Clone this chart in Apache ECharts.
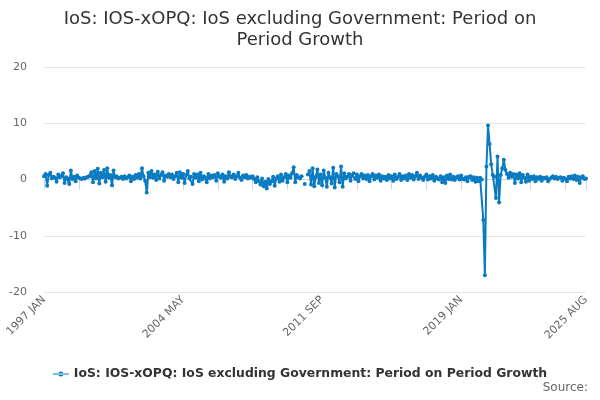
<!DOCTYPE html>
<html>
<head>
<meta charset="utf-8">
<script src="https://cdn.jsdelivr.net/npm/echarts@6/dist/echarts.min.js"></script>
<style>
html,body{margin:0;padding:0;background:#fff;}
#chart{width:600px;height:400px;}
</style>
</head>
<body>
<div id="chart"></div>
<script>
var titleText = 'IoS: IOS-xOPQ: IoS excluding Government: Period on\nPeriod Growth';
var seriesName = 'IoS: IOS-xOPQ: IoS excluding Government: Period on Period Growth';
var monthNames = ['JAN','FEB','MAR','APR','MAY','JUN','JUL','AUG','SEP','OCT','NOV','DEC'];
var firstYear = 1997;
var yTicks = [-20, -10, 0, 10, 20];

var v1997 = [0.6, 1.0, -1.1, 0.8, 1.2, 0.2, 0.5, 0.3, -0.4, 0.9, 0.4, 0.6];
var v1998 = [1.1, -0.6, 0.4, 0.2, -0.8, 1.6, 0.1, 0.5, -0.3, 0.7, 0.3, 0.2];
var v1999 = [0.1, 0.3, 0.2, 0.4, 0.5, 0.6, 1.3, -0.5, 1.5, 0.2, 1.9, -0.7];
var v2000 = [1.2, 0.4, 1.7, -0.4, 2.0, 0.3, 0.8, -1.0, 1.6, 0.4, 0.6, 0.2];
var v2001 = [0.3, 0.5, 0.1, 0.6, 0.2, 0.4, 0.7, -0.3, 0.5, 0.1, 0.8, 0.3];
var v2002 = [1.0, 0.2, 2.0, 0.6, -0.2, -2.3, 1.2, 0.4, 1.5, 0.3, 0.9, -0.1];
var v2003 = [1.4, 0.2, 0.8, 1.3, -0.2, 0.7, 0.5, 1.0, 0.4, 0.9, 0.1, 0.6];
var v2004 = [1.2, -0.5, 1.3, 0.3, 1.0, -0.6, 0.8, 1.5, 0.2, 0.5, -0.8, 1.0];
var v2005 = [0.3, 0.9, -0.3, 1.2, 0.0, 0.6, 0.4, -0.5, 1.0, 0.2, 0.7, 0.4];
var v2006 = [0.8, -0.2, 1.1, 0.5, 0.3, 0.9, -0.4, 0.6, 0.2, 1.3, 0.5, 0.4];
var v2007 = [0.9, 0.1, 0.6, 1.2, 0.3, -0.1, 0.7, 0.4, 0.8, 0.2, 0.5, 0.3];
var v2008 = [0.6, 0.1, -0.5, 0.4, -0.3, -0.9, 0.2, -1.2, -0.4, -1.6, 0.1, -0.8];
var v2009 = [-0.3, 0.5, -1.1, 0.2, 0.6, -0.4, 0.9, -0.2, 0.4, 1.0, -0.5, 0.7];
var v2010 = [0.3, 1.1, 2.2, -0.5, 0.8, 0.4, 0.2, 0.6, null, -0.8, null, 0.9];
var v2011 = [1.5, -0.9, 2.0, -1.2, 0.5, 1.8, -0.6, 0.9, -1.0, 1.6, 0.3, -1.3];
var v2012 = [1.2, 0.4, -0.7, 2.1, -1.4, 1.0, 0.6, -0.5, 2.3, -1.3, 1.1, 0.2];
var v2013 = [0.5, 1.0, -0.2, 0.8, 1.1, 0.1, 0.9, -0.3, 0.6, 1.0, 0.2, 0.7];
var v2014 = [0.1, 0.8, -0.3, 0.6, 1.0, 0.0, 0.7, 0.3, 0.9, -0.2, 0.6, 0.2];
var v2015 = [0.5, -0.1, 0.8, 0.2, 0.6, -0.2, 0.9, 0.1, 0.4, 1.0, -0.1, 0.6];
var v2016 = [0.2, 0.7, -0.1, 1.0, 0.3, 0.8, 0.0, 0.6, 1.2, 0.1, 0.7, 0.3];
var v2017 = [-0.1, 0.5, 0.9, 0.0, 0.6, 0.2, 0.8, -0.2, 0.5, 0.2, 0.0, 0.6];
var v2018 = [-0.5, 0.4, -0.6, 0.7, 0.1, 0.9, 0.0, 0.5, -0.1, 0.4, 0.6, 0.0];
var v2019 = [0.7, 0.1, 0.0, 0.4, -0.3, 0.5, 0.6, -0.1, 0.4, -0.4, 0.3, -0.3];
var v2020 = [0.3, 0.0, -7.2, -17.0, 2.3, 9.6, 6.3, 2.7, 0.8, 0.5, -3.3, 4.1];
var v2021 = [-4.1, 0.8, 2.0, 3.5, 1.7, 1.0, 0.3, 1.2, 0.5, 1.0, -0.6, 0.9];
var v2022 = [0.2, 1.1, -0.5, 0.8, 0.3, -0.4, 0.9, -0.2, 0.5, 0.1, 0.6, -0.3];
var v2023 = [0.4, 0.1, 0.5, -0.2, 0.3, 0.2, 0.4, -0.3, 0.1, 0.3, 0.6, 0.2];
var v2024 = [0.5, 0.1, 0.3, 0.4, -0.2, 0.3, 0.1, -0.3, 0.5, 0.2, 0.6, 0.1];
var v2025 = [0.7, -0.1, 0.5, -0.6, 0.4, 0.6, 0.1, 0.2];

var yearly = [v1997, v1998, v1999, v2000, v2001, v2002, v2003, v2004, v2005, v2006,
  v2007, v2008, v2009, v2010, v2011, v2012, v2013, v2014, v2015, v2016,
  v2017, v2018, v2019, v2020, v2021, v2022, v2023, v2024, v2025];

var categories = [];
var values = [];
yearly.forEach(function (arr, yi) {
  arr.forEach(function (v, mi) {
    categories.push((firstYear + yi) + ' ' + monthNames[mi]);
    values.push(v);
  });
});
var lastIdx = categories.length - 1;
var labelStep = 88;
var tickStep = 22;

var color = '#0b7bc1';
var chart = echarts.init(document.getElementById('chart'), null, {renderer: 'canvas'});
chart.setOption({
  animation: false,
  backgroundColor: '#fff',
  textStyle: {fontFamily: 'DejaVu Sans'},
  title: {
    text: titleText,
    left: 'center',
    top: 4,
    textStyle: {fontFamily: 'DejaVu Sans', fontSize: 18, fontWeight: 'normal', color: '#333', lineHeight: 21}
  },
  graphic: [{
    type: 'text',
    right: 12,
    top: 382,
    style: {text: 'Source:', fontFamily: 'DejaVu Sans', fontSize: 12, fill: '#666'}
  }],
  legend: {
    bottom: 15,
    left: 'center',
    itemWidth: 16,
    itemHeight: 8,
    icon: 'path://M0,3.5 L16,3.5 L16,4.5 L0,4.5 Z M5.5,4 A2.5,2.5 0 1 0 10.5,4 A2.5,2.5 0 1 0 5.5,4 Z',
    textStyle: {fontFamily: 'DejaVu Sans', fontSize: 12.4, fontWeight: 'bold', color: '#333'},
    data: [seriesName]
  },
  grid: {left: 44, right: 14, top: 67, bottom: 108, containLabel: false},
  xAxis: {
    type: 'category',
    data: categories,
    boundaryGap: false,
    axisLine: {lineStyle: {color: '#ccd6eb', width: 1}},
    axisTick: {
      show: true,
      length: 10,
      lineStyle: {color: '#ccd6eb'},
      interval: function (i) { return i % tickStep === 0 || i === lastIdx; }
    },
    axisLabel: {
      rotate: 45,
      color: '#666',
      fontSize: 11,
      fontFamily: 'DejaVu Sans',
      margin: 6,
      showMaxLabel: true,
      interval: function (i) { return (i % labelStep === 0 && i <= lastIdx - 40) || i === lastIdx; }
    },
    splitLine: {show: false}
  },
  yAxis: {
    type: 'value',
    min: yTicks[0],
    max: yTicks[yTicks.length - 1],
    interval: 10,
    axisLine: {show: false},
    axisTick: {show: false},
    axisLabel: {color: '#666', fontSize: 11, fontFamily: 'DejaVu Sans', margin: 17},
    splitLine: {lineStyle: {color: '#e6e6e6', width: 1}}
  },
  series: [{
    name: seriesName,
    type: 'line',
    data: values,
    connectNulls: false,
    showSymbol: true,
    showAllSymbol: true,
    symbol: 'circle',
    symbolSize: 4,
    itemStyle: {color: color},
    lineStyle: {color: color, width: 2}
  }]
});
</script>
</body>
</html>
